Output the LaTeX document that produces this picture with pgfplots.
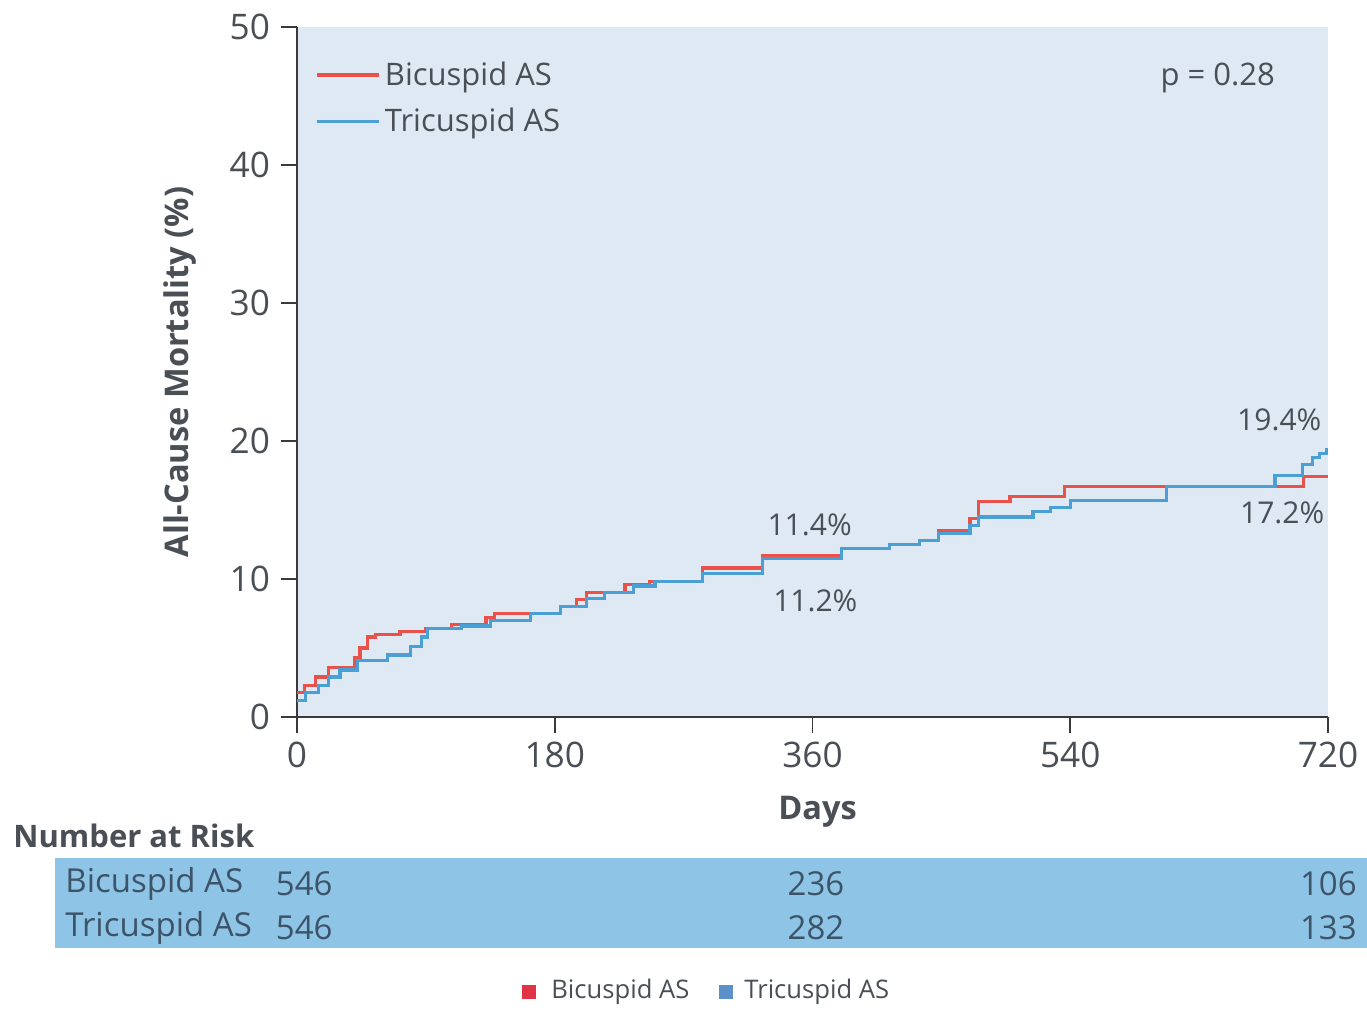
\documentclass[border=0pt]{standalone}
\usepackage{pgfplots}
\pgfplotsset{compat=1.18}
\usepackage{fontspec}
\setmainfont{Open Sans}
\definecolor{bic}{HTML}{E8524A}
\definecolor{tri}{HTML}{4A9FD5}
\definecolor{bgb}{HTML}{DEE9F3}
\definecolor{band}{HTML}{8EC4E6}
\definecolor{txt}{HTML}{4A4F55}
\definecolor{bandtxt}{HTML}{3D5468}
\definecolor{axc}{HTML}{3A3A3A}
\definecolor{sqr}{HTML}{E03345}
\definecolor{sqb}{HTML}{5B90C8}
\begin{document}
\begin{tikzpicture}[x=0.5pt,y=-0.5pt]
\useasboundingbox (0,0) rectangle (1367,1010);
\begin{axis}[
  at={(148.5pt,-358.5pt)}, anchor=south west,
  scale only axis, width=515.5pt, height=345pt,
  xmin=0, xmax=720, ymin=0, ymax=50,
  xtick={0,180,360,540,720}, ytick={0,10,20,30,40,50},
  axis x line*=bottom, axis y line*=left,
  axis line style={axc, line width=0.9pt},
  tick style={axc, line width=0.9pt},
  tick align=outside, major tick length=8pt,
  axis background/.style={fill=bgb},
  every tick label/.append style={font=\fontsize{17.6}{20}\selectfont, text=txt},
  /pgf/number format/assume math mode=true,
  xticklabel style={yshift=-1pt},
  yticklabel style={xshift=-2pt},
  xlabel={\bfseries Days}, ylabel={\bfseries All-Cause Mortality (\%)},
  every axis label/.append style={font=\fontsize{16.3}{19}\selectfont, text=txt},
  every axis x label/.style={at={(axis description cs:0.505,-0.138)}, anchor=center},
  every axis y label/.style={at={(axis description cs:-0.1135,0.5)}, rotate=90, anchor=center},
  legend style={at={(0.012,0.962)}, anchor=north west, draw=none, fill=none,
    font=\fontsize{15.5}{19}\selectfont, text=txt, row sep=6pt,
    /tikz/every even column/.append style={column sep=2pt}},
  legend cell align=left,
  legend image code/.code={\draw[#1] (0pt,0pt) -- (31pt,0pt);},
  clip=false,
]
\addplot[const plot, color=bic, line width=1.6pt] coordinates {
(0,1.8) (5,2.3) (13,2.9) (22,3.6) (40,4.3) (44,5.0) (49,5.8) (55,6.0) (72,6.2)
(90,6.4) (108,6.7) (132,7.2) (138,7.5) (184,8.0) (195,8.5) (202,9.0) (229,9.6)
(246,9.8) (283,10.8) (325,11.7) (380,12.2) (414,12.5) (435,12.8) (448,13.5)
(470,14.4) (476,15.6) (498,16.0) (536,16.7) (703,17.4) (720,17.4)
};
\addlegendentry{Bicuspid AS}
\addplot[const plot, color=tri, line width=1.6pt] coordinates {
(0,1.2) (6,1.8) (15,2.3) (22,2.9) (30,3.4) (42,4.1) (63,4.5) (79,5.1) (87,5.8)
(91,6.4) (115,6.6) (135,7.0) (163,7.5) (184,8.0) (202,8.6) (215,9.0) (235,9.5)
(250,9.8) (283,10.4) (325,11.5) (380,12.2) (414,12.5) (435,12.8) (448,13.3)
(470,13.9) (476,14.5) (514,14.9) (526,15.2) (540,15.7) (607,16.7) (683,17.5)
(702,18.3) (709,18.8) (714,19.1) (719,19.4) (720,19.4)
};
\addlegendentry{Tricuspid AS}
\node[text=txt, font=\fontsize{15}{18}\selectfont] at (axis cs:358,13.9) {11.4\%};
\node[text=txt, font=\fontsize{15}{18}\selectfont] at (axis cs:362,8.4) {11.2\%};
\node[text=txt, font=\fontsize{15}{18}\selectfont] at (axis cs:686,21.5) {19.4\%};
\node[text=txt, font=\fontsize{15}{18}\selectfont] at (axis cs:688,14.8) {17.2\%};
\node[text=txt, font=\fontsize{15.5}{18}\selectfont] at (axis cs:643,46.3) {p = 0.28};
\end{axis}
% Number at risk table
\node[anchor=west, text=txt, font=\fontsize{15.5}{19}\selectfont\bfseries, inner sep=0pt] at (13,836) {Number at Risk};
\fill[band] (55,858) rectangle (1367,948);
\begin{scope}[every node/.style={text=bandtxt, font=\fontsize{16.5}{20}\selectfont, inner sep=0pt}]
\node[anchor=west] at (65,884) {Bicuspid AS};
\node[anchor=west] at (65,928) {Tricuspid AS};
\node[anchor=east] at (333,884) {546};
\node[anchor=east] at (333,928) {546};
\node at (816,884) {236};
\node at (816,928) {282};
\node[anchor=east] at (1357,884) {106};
\node[anchor=east] at (1357,928) {133};
\end{scope}
% bottom legend
\fill[sqr] (522,985) rectangle (536,999);
\node[anchor=west, text=txt, font=\fontsize{12.8}{15}\selectfont, inner sep=0pt] at (551,992) {Bicuspid AS};
\fill[sqb] (719,985) rectangle (733,999);
\node[anchor=west, text=txt, font=\fontsize{12.8}{15}\selectfont, inner sep=0pt] at (744,992) {Tricuspid AS};
\end{tikzpicture}
\end{document}
